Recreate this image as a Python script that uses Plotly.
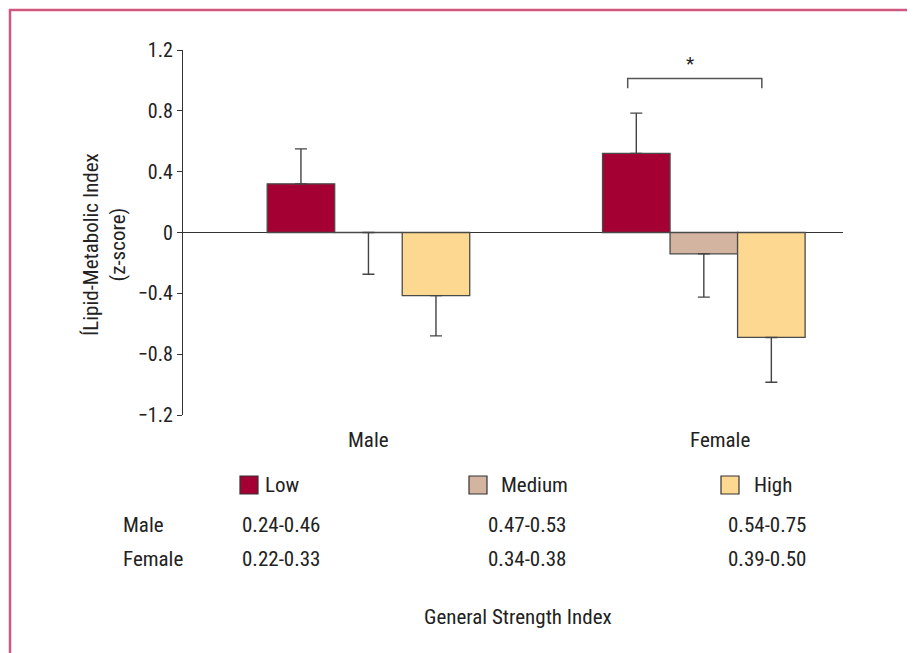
import plotly.graph_objects as go

groups = ["Male", "Female"]
levels = ["Low", "Medium", "High"]
means = {
    "Low": [0.32, 0.52],
    "Medium": [0.0, -0.14],
    "High": [-0.415, -0.69],
}
errors = {
    "Low": [0.23, 0.265],
    "Medium": [0.275, 0.285],
    "High": [0.265, 0.295],
}
colors = {"Low": "#a50034", "Medium": "#d3b4a0", "High": "#fdd890"}
ytick_vals = [1.2, 0.8, 0.4, 0, -0.4, -0.8, -1.2]
ytick_text = ["1.2", "0.8", "0.4", "0", "\u22120.4", "\u22120.8", "\u22121.2"]
range_rows = ["Male", "Female"]
range_labels = {
    "Male": ["0.24-0.46", "0.47-0.53", "0.54-0.75"],
    "Female": ["0.22-0.33", "0.34-0.38", "0.39-0.50"],
}

FONT = "Liberation Sans Narrow, Roboto Condensed, Arial Narrow, Liberation Sans, sans-serif"
TXT = "#222222"
OFF = 8  # page body margin
W, H = 915 - OFF, 653 - OFF
AX_L, AX_R, AX_T, AX_B = 183, 843, 50, 415  # window pixel coords of the plot area
L, R, T, B = AX_L - OFF, (W + OFF) - AX_R, AX_T - OFF, (H + OFF) - AX_B
PW, PH = W - L - R, H - T - B


def px(x):
    return (x - OFF - L) / PW


def py(y):
    return (H - B - (y - OFF)) / PH


fig = go.Figure()
for lv in levels:
    vals = means[lv]
    errs = errors[lv]
    plus = [e if v > 0 else 0 for v, e in zip(vals, errs)]
    minus = [e if v <= 0 else 0 for v, e in zip(vals, errs)]
    fig.add_trace(go.Bar(
        x=groups, y=vals, name=lv,
        marker=dict(color=colors[lv], line=dict(color="#4a4a4a", width=1.3)),
        error_y=dict(type="data", symmetric=False, array=plus, arrayminus=minus,
                     color="#444444", thickness=1.4, width=6),
        showlegend=False,
    ))

fig.update_layout(
    width=W, height=H,
    margin=dict(l=L, r=R, t=T, b=B),
    barmode="group", bargap=0.396, bargroupgap=0,
    plot_bgcolor="white", paper_bgcolor="white",
    font=dict(family=FONT, size=21, color=TXT),
    xaxis=dict(range=[-0.553, 1.415], showticklabels=False, showline=False,
               showgrid=False, zeroline=False, ticks=""),
    yaxis=dict(range=[-1.2, 1.2], tickvals=ytick_vals, ticktext=ytick_text,
               showline=True, linecolor="#333333", linewidth=1.2,
               ticks="outside", ticklen=5, tickcolor="#333333", tickwidth=1.2,
               showgrid=False, zeroline=True, zerolinecolor="#333333", zerolinewidth=1.2,
               tickfont=dict(size=20)),
)

# significance bracket
fig.add_shape(type="path", xref="x", yref="y",
              path="M 0.773 0.949 L 0.773 1.012 L 1.173 1.012 L 1.173 0.949",
              line=dict(color="#555555", width=1.5))
fig.add_annotation(x=0.96, y=1.108, xref="x", yref="y", text="*", showarrow=False,
                   font=dict(size=19))

ann = []
# y axis title
ann.append(dict(x=px(104), y=py(245), xref="paper", yref="paper",
                text="ÍLipid-Metabolic Index<br>(z-score)", textangle=-90,
                showarrow=False, xanchor="center", yanchor="middle"))
# group labels
for g, xx in zip(groups, [368, 720]):
    ann.append(dict(x=px(xx), y=py(440), xref="paper", yref="paper", text=g,
                    showarrow=False, xanchor="center", yanchor="middle"))
# legend
legend_sq = [240, 469, 721]
legend_tx = [263, 499, 752]
for lv, sx, tx in zip(levels, legend_sq, legend_tx):
    fig.add_shape(type="rect", xref="paper", yref="paper",
                  x0=px(sx), x1=px(sx + 18), y0=py(494), y1=py(476),
                  fillcolor=colors[lv], line=dict(color="#333333", width=1.2))
    ann.append(dict(x=px(tx), y=py(485), xref="paper", yref="paper", text=lv,
                    showarrow=False, xanchor="left", yanchor="middle"))
# range table
col_x = [240, 486, 726]
for row, yy in zip(range_rows, [525, 559]):
    ann.append(dict(x=px(121), y=py(yy), xref="paper", yref="paper", text=row,
                    showarrow=False, xanchor="left", yanchor="middle"))
    for lab, cx in zip(range_labels[row], col_x):
        ann.append(dict(x=px(cx), y=py(yy), xref="paper", yref="paper", text=lab,
                        showarrow=False, xanchor="left", yanchor="middle"))
ann.append(dict(x=px(518), y=py(617), xref="paper", yref="paper",
                text="General Strength Index", showarrow=False,
                xanchor="center", yanchor="middle"))
for a in ann:
    fig.add_annotation(**a)

# frame lines
fig.add_shape(type="line", xref="paper", yref="paper", x0=px(9), x1=px(930),
              y0=py(10), y1=py(10), line=dict(color="#d0587e", width=2.5))
fig.add_shape(type="line", xref="paper", yref="paper", x0=px(10), x1=px(10),
              y0=py(9), y1=py(670), line=dict(color="#d0587e", width=2.5))

fig.write_html("out.html")
